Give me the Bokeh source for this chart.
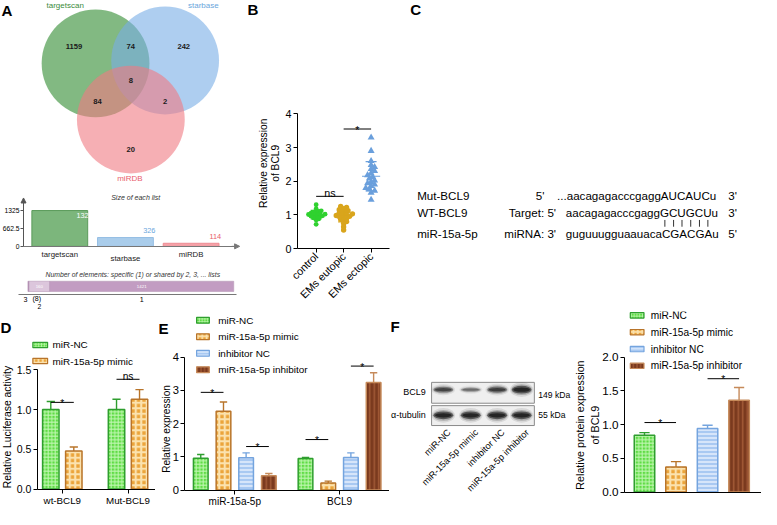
import math
import numpy as np
from bokeh.plotting import figure
from bokeh.layouts import row, column
from bokeh.models import Range1d, LinearAxis, FixedTicker, PrintfTickFormatter, Arrow, NormalHead
from bokeh.core.properties import value
from bokeh.embed import file_html
from bokeh.resources import INLINE

FONT = "Liberation Sans"
KX = 761 / 777
KY = 509 / 525
FS = 0.975

# ===================== data =====================
venn_sets = ["targetscan", "starbase", "miRDB"]
# regions: targetscan only, starbase only, miRDB only, ts&sb, ts&miRDB, sb&miRDB, all three
venn_counts = [1159, 242, 20, 74, 84, 2, 8]
shared_labels = ["3", "2", "1"]

b_groups = ["control", "EMs eutopic", "EMs ectopic"]
b_control = [1.30, 1.18, 1.12, 1.10, 1.07, 1.05, 1.03, 1.01, 1.00, 0.99,
             0.97, 0.95, 0.93, 0.91, 0.88, 0.85, 0.72, 1.02, 0.96, 1.08]
b_eutopic = [1.25, 1.22, 1.18, 1.15, 1.12, 1.08, 1.05, 1.03, 1.00, 0.98, 0.96,
             0.93, 0.90, 0.87, 0.84, 0.80, 0.75, 0.65, 0.55, 1.10, 0.95, 1.01]
b_ectopic = [3.30, 2.90, 2.60, 2.48, 2.42, 2.36, 2.30, 2.24, 2.18, 2.12, 2.08,
             2.02, 1.98, 1.94, 1.90, 1.86, 1.80, 1.76, 1.72, 1.66, 1.45]
b_sig = [(0, 1, 1.55, "ns"), (1, 2, 3.55, "*")]

c_names = ["Mut-BCL9", "WT-BCL9", "miR-15a-5p"]
c_prefix = ["5'", "Target: 5'", "miRNA: 3'"]
c_seqs = ["...aacagagacccgaggAUCAUCu", "aacagagacccgaggGCUGCUu", "guguuugguaauacaCGACGAu"]
c_suffix = ["3'", "3'", "5'"]

series_names = ["miR-NC", "miR-15a-5p mimic", "inhibitor NC", "miR-15a-5p inhibitor"]

d_groups = ["wt-BCL9", "Mut-BCL9"]
d_nc = [1.00, 1.00]
d_nc_err = [0.10, 0.13]
d_mimic = [0.48, 1.13]
d_mimic_err = [0.05, 0.12]
d_sig = [(0, 0, 1, 1.09, "*"), (1, 0, 1, 1.38, "ns")]

e_groups = ["miR-15a-5p", "BCL9"]
e_nc = [0.96, 0.95]
e_nc_err = [0.11, 0.03]
e_mimic = [2.37, 0.21]
e_mimic_err = [0.28, 0.06]
e_inc = [0.97, 0.98]
e_inc_err = [0.15, 0.14]
e_inh = [0.43, 3.24]
e_inh_err = [0.07, 0.29]
e_sig = [(0, 0, 1, 2.94, "*"), (0, 2, 3, 1.31, "*"), (1, 0, 1, 1.52, "*"), (1, 2, 3, 3.73, "*")]

f_vals = [0.84, 0.37, 0.94, 1.36]
f_errs = [0.04, 0.08, 0.05, 0.19]
f_sig = [(0, 1, 1.03, "*"), (2, 3, 1.68, "*")]
f_tubulin = [1.0, 1.0, 1.0, 1.0]
f_rows = ["BCL9", "α-tubulin"]
f_kda = ["149 kDa", "55 kDa"]

# ===================== styles =====================
STY = [
    dict(fill="#5fdc45", hatch="#c2f7b4", pat="cross", line="#2f9e2f", scale=3.5, weight=1.0),
    dict(fill="#eba43a", hatch="#fbe2ae", pat="cross", line="#b8742a", scale=5.5, weight=2.2),
    dict(fill="#a9c9f2", hatch="#eef5ff", pat="horizontal_line", line="#74a4de", scale=4.0, weight=1.3),
    dict(fill="#7a3a1e", hatch="#a35b37", pat="vertical_line", line="#c68a5a", scale=4.5, weight=1.5),
]


def PX(v):
    return int(round(v * KX))


def PY(v):
    return int(round(v * KY))


def ident(v):
    return v


def make_fig(box, xf, yf):
    x0, y0, x1, y1 = box
    w = PX(x1) - PX(x0)
    h = PY(y1) - PY(y0)
    p = figure(width=w, height=h, x_range=Range1d(xf(x0), xf(x1)), y_range=Range1d(yf(y1), yf(y0)),
               x_axis_type=None, y_axis_type=None, output_backend="svg", toolbar_location=None,
               tools="", min_border=0)
    p.outline_line_color = None
    p.background_fill_color = "white"
    p.border_fill_color = "white"
    return p


def txt(p, xs, ys, texts, size, color="#000000", align="left", baseline="middle", angle=0.0,
        style="normal", xo=0, yo=0):
    p.text(x=list(xs), y=list(ys), text=list(texts), text_font=value(FONT),
           text_font_size=f"{size * FS:.2f}px", text_color=color, text_align=align,
           text_baseline=baseline, angle=angle, text_font_style=style, x_offset=xo, y_offset=yo)


def style_axis(ax, size, color="black", ticks=True, tick_len=4, standoff=2):
    ax.axis_line_color = color
    ax.axis_line_width = 1
    ax.major_tick_line_color = color if ticks else None
    ax.major_tick_out = tick_len
    ax.major_tick_in = 0
    ax.minor_tick_line_color = None
    ax.major_label_text_font = FONT
    ax.major_label_text_font_size = f"{size * FS:.2f}px"
    ax.major_label_text_color = "black"
    ax.major_label_standoff = standoff


def yaxis(p, loc, bounds, ticks, size, fmt=None, overrides=None, color="black", tick_len=4, standoff=2):
    ax = LinearAxis(fixed_location=loc, bounds=bounds, ticker=FixedTicker(ticks=ticks))
    if fmt:
        ax.formatter = PrintfTickFormatter(format=fmt)
    if overrides:
        ax.major_label_overrides = overrides
    style_axis(ax, size, color, True, tick_len, standoff)
    p.add_layout(ax, "left")
    return ax


def xaxis(p, loc, bounds, ticks, labels, size, angle=None, color="black", show_ticks=True):
    ax = LinearAxis(fixed_location=loc, bounds=bounds, ticker=FixedTicker(ticks=ticks))
    ax.major_label_overrides = {float(t): l for t, l in zip(ticks, labels)}
    style_axis(ax, size, color, show_ticks)
    if angle is not None:
        ax.major_label_orientation = angle
    p.add_layout(ax, "below")
    return ax


def bars(p, xs, tops, errs, st, width):
    p.vbar(x=list(xs), top=list(tops), bottom=0, width=width, fill_color=st["fill"],
           line_color=st["line"], line_width=1.5, hatch_pattern=st["pat"], hatch_color=st["hatch"],
           hatch_scale=st["scale"], hatch_weight=st["weight"])
    up = [t + e for t, e in zip(tops, errs)]
    p.segment(x0=list(xs), y0=list(tops), x1=list(xs), y1=up, line_color=st["line"], line_width=1.4)
    cw = width * 0.5
    p.segment(x0=[x - cw / 2 for x in xs], y0=up, x1=[x + cw / 2 for x in xs], y1=up,
              line_color=st["line"], line_width=1.4)


def sig(p, xa, xb, y, label, size):
    p.segment(x0=[xa], y0=[y], x1=[xb], y1=[y], line_color="black", line_width=1)
    if label == "*":
        txt(p, [(xa + xb) / 2], [y], [label], size, align="center", baseline="alphabetic", yo=1)
    else:
        txt(p, [(xa + xb) / 2], [y], [label], size, align="center", baseline="alphabetic", yo=-3)


def legend(p, xf, yf, cx, w, h, ys, tx, labels, styles, size):
    for yy, st in zip(ys, styles):
        p.rect(x=[xf(cx)], y=[yf(yy)], width=abs(xf(cx + w / 2) - xf(cx - w / 2)),
               height=abs(yf(yy - h / 2) - yf(yy + h / 2)), fill_color=st["fill"],
               line_color=st["line"], line_width=1.2, hatch_pattern=st["pat"],
               hatch_color=st["hatch"], hatch_scale=st["scale"] * 0.8, hatch_weight=st["weight"] * 0.8)
    txt(p, [xf(tx)] * len(ys), [yf(y) for y in ys], labels, size)


def swarm(vals, pyu, pxu, d):
    ys = np.asarray(vals, dtype=float) * pyu
    order = np.argsort(ys)
    placed = []
    off = np.zeros(len(ys))
    steps = [0.0]
    for k in range(1, 40):
        steps += [k * d * 0.5, -k * d * 0.5]
    for i in order:
        for s in steps:
            if all((s - qx) ** 2 + (ys[i] - qy) ** 2 >= d * d for qx, qy in placed):
                off[i] = s
                placed.append((s, ys[i]))
                break
    return off / pxu


# ===================== Panel A : Venn =====================
set_sizes = [venn_counts[0] + venn_counts[3] + venn_counts[4] + venn_counts[6],
             venn_counts[1] + venn_counts[3] + venn_counts[5] + venn_counts[6],
             venn_counts[2] + venn_counts[4] + venn_counts[5] + venn_counts[6]]
set_fill = ["#2f8a2f", "#78aee6", "#f07a82"]
set_text = ["#3a8a3a", "#6aa6dc", "#e8606c"]

pV = make_fig((0, 0, 250, 188), ident, ident)
pV.circle(x=[97, 168, 133], y=[65, 62, 123], radius=55, fill_color=set_fill, fill_alpha=0.6,
          line_color=None)
reg_xy = [(75, 48), (187, 48), (133, 154), (133, 48), (99, 104), (168, 104), (133, 83)]
txt(pV, [q[0] for q in reg_xy], [q[1] for q in reg_xy], [str(c) for c in venn_counts], 7.8,
    color="#1a1a1a", align="center", style="bold")
txt(pV, [66, 207, 132], [5.5, 5.5, 184], venn_sets, 8.2, color=set_text, align="center")
txt(pV, [1], [10], ["A"], 15.5, style="bold")

# ===================== Panel A : size of each list =====================
U_PXU = 37.0 / 1325.0   # px per list element


def xfU(px):
    return (px - 60.5) / 67.0


def yfU(py):
    return (254.0 - py) / U_PXU


pU = make_fig((0, 188, 250, 280), xfU, yfU)
pU.vbar(x=[0, 1, 2], top=set_sizes, bottom=0, width=0.85,
        fill_color=["#7cb67c", "#aacdeb", "#f5a2a8"], line_color=["#5a9a5a", "#94bde4", "#ee8c94"],
        line_width=1)
ymax = max(set_sizes)
yaxis(pU, xfU(23.5), (0, yfU(207)), [0, ymax / 2, ymax], 6.9,
      overrides={0.0: "0", float(ymax / 2): f"{ymax / 2:g}", float(ymax): f"{ymax:g}"}, color="#555555",
      tick_len=3, standoff=1)
xa = xaxis(pU, 0, (xfU(23.5), xfU(240)), [], [], 7, color="#777777", show_ticks=False)
pU.add_layout(Arrow(end=NormalHead(size=5, fill_color="#555555", line_color="#555555"),
                    x_start=xfU(23.5), y_start=yfU(212), x_end=xfU(23.5), y_end=yfU(204),
                    line_color="#555555", line_width=1))
pU.add_layout(Arrow(end=NormalHead(size=5, fill_color="#777777", line_color="#777777"),
                    x_start=xfU(236), y_start=0, x_end=xfU(244), y_end=0,
                    line_color="#777777", line_width=1))
txt(pU, [0, 1, 2], [yfU(262), yfU(267), yfU(262)], venn_sets, 8, color="#222222", align="center")
txt(pU, [xfU(138)], [yfU(203)], ["Size of each list"], 7.2, color="#333333", align="center",
    style="italic")
for i, v in enumerate(set_sizes):
    if v > 0.8 * ymax:
        txt(pU, [i + 0.425], [v], [str(v)], 7.5, color="white", align="right", xo=5, yo=5)
    else:
        txt(pU, [i + 0.425], [v], [str(v)], 7.5, color=set_text[i], align="right", xo=2, yo=-7)

# ===================== Panel A : number of elements =====================
seg_counts = [venn_counts[6], venn_counts[3] + venn_counts[4] + venn_counts[5],
              venn_counts[0] + venn_counts[1] + venn_counts[2]]
n_total = sum(seg_counts)
N_PXU = 210.0 / n_total


def xfN(px):
    return (px - 28.0) / N_PXU


pN = make_fig((0, 280, 250, 321), xfN, ident)
lefts = list(np.cumsum([0] + seg_counts[:-1]))
rights = list(np.cumsum(seg_counts))
pN.quad(left=lefts, right=rights, top=290, bottom=300.5,
        fill_color=["#a679a6", "#dcc6dc", "#c29cc2"], line_color="#b89ab8", line_width=0.6)
mids = [(l + r) / 2 for l, r in zip(lefts, rights)]
txt(pN, mids[1:], [295.5, 295.5], [str(c) for c in seg_counts[1:]], 4.5, color="white", align="center")
xaxis(pN, 303.5, (xfN(18), xfN(241)), [], [], 7, color="#777777", show_ticks=False)
txt(pN, [xfN(25.5), xfN(37), mids[2]], [308.5, 308.5, 308.5],
    [shared_labels[0], f"({seg_counts[0]})", shared_labels[2]], 7.3, align="center")
txt(pN, [mids[1]], [315.8], [shared_labels[1]], 7.0, align="center")
txt(pN, [xfN(135)], [283.5], ["Number of elements: specific (1) or shared by 2, 3, ... lists"], 7,
    color="#333333", align="center", style="italic")

# ===================== Panel B =====================


def xfB(px):
    return (px - 322.0) / 28.0


def yfB(py):
    return (256.0 - py) / 34.75


pB = make_fig((250, 0, 410, 321), xfB, yfB)
b_sets = [b_control, b_eutopic, b_ectopic]
b_colors = ["#2fd12f", "#d9a51c", "#6a9fdc"]
b_markers = ["circle", "circle", "triangle"]
b_sizes = [4.8, 5.4, 7.0]
b_diam = [2.6, 3.0, 3.6]
for i, vals in enumerate(b_sets):
    v = np.array(vals)
    m = v.mean()
    s = v.std(ddof=1)
    offs = swarm(v, 34.75, 28.0, b_diam[i])
    pB.scatter(x=list(i + offs), y=list(v), marker=b_markers[i], size=b_sizes[i],
               fill_color=b_colors[i], line_color=None)
    pB.segment(x0=[i - 0.33], y0=[m], x1=[i + 0.33], y1=[m], line_color=b_colors[i], line_width=1.2)
    pB.segment(x0=[i, i - 0.2, i - 0.2], y0=[m - s, m + s, m - s], x1=[i, i + 0.2, i + 0.2],
               y1=[m + s, m + s, m - s], line_color=b_colors[i], line_width=1.2)
yaxis(pB, xfB(303), (0, 4), [0, 1, 2, 3, 4], 11, fmt="%d")
xaxis(pB, 0, (xfB(303), xfB(397)), [0, 1, 2], b_groups, 11, angle=math.pi / 4)
for a, b, y, lab in b_sig:
    sig(pB, a, b, y, lab, 11)
txt(pB, [xfB(268), xfB(281)], [yfB(168), yfB(168)], ["Relative expression", "of BCL9"], 10.5,
    align="center", angle=math.pi / 2)
txt(pB, [xfB(252)], [yfB(9)], ["B"], 15.5, style="bold")

# ===================== Panel C =====================
pC = make_fig((410, 0, 777, 321), ident, ident)
C_FONT = 11.9
AW = {"a": 556, "c": 500, "g": 556, "u": 556, "G": 778, "C": 722, "U": 722, "A": 667}
rows_y = [201, 219, 241]
txt(pC, [425] * 3, rows_y, c_names, C_FONT)
txt(pC, [555, 567, 567], rows_y, c_prefix, C_FONT, align="right")
txt(pC, [568, 577, 577], rows_y, c_seqs, C_FONT)
txt(pC, [743] * 3, rows_y, c_suffix, C_FONT)
# pairing marks under the paired (upper-case) bases of the WT target
wt = c_seqs[1]
xpos = 577.0
pair_x = []
for ch in wt:
    w = AW[ch] / 1000.0 * C_FONT
    if ch.isupper():
        pair_x.append(xpos + w / 2)
    xpos += w
pC.segment(x0=pair_x, y0=[226.5] * len(pair_x), x1=pair_x, y1=[233.5] * len(pair_x),
           line_color="#333333", line_width=1)
txt(pC, [418], [9], ["C"], 15.5, style="bold")

# ===================== Panel D =====================


def xfD(px):
    return (px - 63.0) / 67.0


def yfD(py):
    return (504.0 - py) / 82.0


pD = make_fig((0, 321, 158, 525), xfD, yfD)
d_off = [-0.175, 0.175]
bars(pD, [g + d_off[0] for g in range(2)], d_nc, d_nc_err, STY[0], 0.25)
bars(pD, [g + d_off[1] for g in range(2)], d_mimic, d_mimic_err, STY[1], 0.25)
yaxis(pD, xfD(37.5), (0, 1.5), [0, 0.5, 1.0, 1.5], 10.8, fmt="%.1f")
xaxis(pD, 0, (xfD(37.5), xfD(158)), [0, 1], d_groups, 10)
for g, a, b, y, lab in d_sig:
    sig(pD, g + d_off[a], g + d_off[b], y, lab, 10.5)
legend(pD, xfD, yfD, 40.5, 15, 5.5, [355.5, 372], 53, series_names[:2], STY[:2], 10.2)
txt(pD, [xfD(7.5)], [yfD(440)], ["Relative Luciferase activity"], 10.6, align="center", angle=math.pi / 2)
txt(pD, [xfD(0)], [yfD(337)], ["D"], 15.5, style="bold")

# ===================== Panel E =====================


def xfE(px):
    return (px - 239.0) / 107.0


def yfE(py):
    return (505.0 - py) / 34.25


pE = make_fig((158, 321, 397, 525), xfE, yfE)
e_off = [-0.325, -0.108, 0.108, 0.325]
e_series = [(e_nc, e_nc_err), (e_mimic, e_mimic_err), (e_inc, e_inc_err), (e_inh, e_inh_err)]
for j, (vals, errs) in enumerate(e_series):
    bars(pE, [g + e_off[j] for g in range(2)], vals, errs, STY[j], 0.14)
yaxis(pE, xfE(188), (0, 4), [0, 1, 2, 3, 4], 11.5, fmt="%d")
xaxis(pE, 0, (xfE(188), xfE(397)), [0, 1], e_groups, 10.3)
for g, a, b, y, lab in e_sig:
    sig(pE, g + e_off[a], g + e_off[b], y, lab, 10.5)
legend(pE, xfE, yfE, 206.5, 13, 6, [330, 347, 364, 381], 222, series_names, STY, 10.2)
txt(pE, [xfE(169.5)], [yfE(442)], ["Relative expression"], 10.3, align="center", angle=math.pi / 2)
txt(pE, [xfE(161)], [yfE(338)], ["E"], 15.5, style="bold")

# ===================== Panel F : blot =====================
pFb = make_fig((397, 321, 585, 525), ident, ident)
pFb.quad(left=[440, 440], right=[545, 545], top=[394, 418], bottom=[415.5, 438.5],
         fill_color="#efefef", line_color="#8a8a8a", line_width=1)
lanes_x = [452, 480, 507, 532]
rel = [v / max(f_vals) for v in f_vals]
for yc, ints in [(401.5, rel), (428, f_tubulin)]:
    hts = [3.0 + 5.0 * r for r in ints]
    al = [min(1.0, 0.3 + 0.7 * r) for r in ints]
    for sw, sh, af in [(1.2, 1.9, 0.10), (1.08, 1.4, 0.22), (1.0, 1.0, 0.55), (0.85, 0.55, 0.7)]:
        pFb.ellipse(x=lanes_x, y=[yc] * 4, width=[20 * sw] * 4, height=[h * sh for h in hts],
                    fill_color="#111111", fill_alpha=[a * af for a in al], line_color=None)
txt(pFb, [434, 434], [404, 428], f_rows, 9.2, align="right")
txt(pFb, [549, 549], [407, 428], f_kda, 8.8)
txt(pFb, [x + 6 for x in lanes_x], [444] * 4, series_names, 9.5, align="right", angle=math.pi / 4)
txt(pFb, [398], [336], ["F"], 15.5, style="bold")

# ===================== Panel F : bars =====================


def xfF(px):
    return (px - 657.5) / 32.2


def yfF(py):
    return (507.0 - py) / 69.5


pF = make_fig((585, 321, 777, 525), xfF, yfF)
for j in range(4):
    bars(pF, [j], [f_vals[j]], [f_errs[j]], STY[j], 0.65)
yaxis(pF, xfF(637), (0, 2.0), [0, 0.5, 1.0, 1.5, 2.0], 12, fmt="%.1f")
xaxis(pF, 0, (xfF(637), xfF(777)), [], [], 10, show_ticks=False)
for a, b, y, lab in f_sig:
    sig(pF, a, b, y, lab, 10.5)
legend(pF, xfF, yfF, 650, 14, 5.5, [325, 342.3, 359.7, 377], 664, series_names, STY, 10.4)
txt(pF, [xfF(592), xfF(607)], [yfF(438), yfF(438)], ["Relative protein expression", "of BCL9"], 11,
    align="center", angle=math.pi / 2)

# ===================== layout =====================
layout = column(
    row(column(pV, pU, pN), pB, pC),
    row(pD, pE, pFb, pF),
)

open("out.html", "w").write(file_html(layout, INLINE))
